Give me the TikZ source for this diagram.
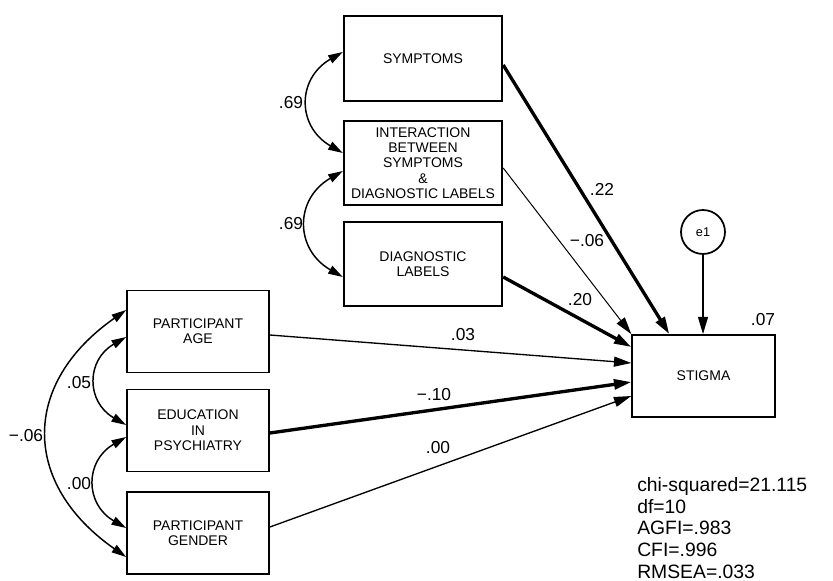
\documentclass[tikz,border=0pt]{standalone}
\usepackage{fontspec}
\setmainfont{Liberation Sans}
\usetikzlibrary{arrows.meta, calc}
\tikzstyle{var}=[draw, rectangle, line width=1.3pt, align=center, inner sep=0pt, font=\fontsize{10.5}{11.5}\selectfont]
\tikzstyle{topvar}=[var, minimum width=119pt, minimum height=63.5pt]
\tikzstyle{leftvar}=[var, minimum width=106.5pt, minimum height=61.5pt]
\tikzstyle{coef}=[inner sep=0pt, font=\fontsize{13}{15}\selectfont]
\tikzstyle{reg}=[-{Triangle[length=13pt,width=7.5pt]}, line width=1pt]
\tikzstyle{cov}=[{Triangle[length=11pt,width=6.5pt]}-{Triangle[length=11pt,width=6.5pt]}, line width=1.1pt]

\begin{document}
\begin{tikzpicture}[x=0.75pt, y=-0.75pt]
    \useasboundingbox (0, 0) rectangle (833, 581);

    \node[topvar] (sym) at (423, 58.5) {SYMPTOMS};
    \node[topvar] (inter) at (423, 163) {INTERACTION\\BETWEEN\\SYMPTOMS\\\&\\DIAGNOSTIC LABELS};
    \node[topvar] (diag) at (423, 264) {DIAGNOSTIC\\LABELS};

    \node[leftvar] (age) at (198, 331.5) {PARTICIPANT\\AGE};
    \node[leftvar] (edu) at (198, 430.5) {EDUCATION\\IN\\PSYCHIATRY};
    \node[leftvar] (gender) at (198, 533) {PARTICIPANT\\GENDER};

    \node[var, minimum width=107pt, minimum height=61.5pt] (stigma) at (703.5, 376) {STIGMA};
    \node[draw, circle, line width=1.3pt, minimum size=33pt, inner sep=0pt, font=\fontsize{9.5}{11}\selectfont] (e1) at (703, 232) {e1};

    \draw[reg, line width=2.5pt] ($(sym.east) + (0, 6.5)$) -- ($(stigma.north west) + (38, 0)$);
    \draw[reg, line width=0.75pt] ($(inter.east) + (0, 5)$) -- (stigma.north west);
    \draw[reg, line width=2.5pt] ($(diag.east) + (0, 13)$) -- ($(stigma.west) + (0, -29)$);
    \draw[reg] ($(age.east) + (0, 3.5)$) -- ($(stigma.west) + (0, -13)$);
    \draw[reg, line width=2.5pt] ($(edu.east) + (0, 2.5)$) -- ($(stigma.west) + (0, 6)$);
    \draw[reg] ($(gender.east) + (0, -6)$) -- ($(stigma.west) + (0, 20)$);
    \draw[reg] (e1) -- (e1 |- stigma.north);

    \draw[cov] ($(sym.west) + (0, -6.5)$) to[out=210, in=150, looseness=1.35] ($(inter.west) + (0, -10)$);
    \draw[cov] ($(inter.west) + (0, 8)$) to[out=210, in=150, looseness=1.35] ($(diag.west) + (0, 13)$);
    \draw[cov] ($(age.west) + (0, 5.5)$) to[out=210, in=150, looseness=1.35] ($(edu.west) + (0, -5.5)$);
    \draw[cov] ($(edu.west) + (0, 6.5)$) to[out=210, in=150, looseness=1.35] ($(gender.west) + (0, -5)$);
    \draw[cov] ($(age.west) + (0, -21.5)$) to[out=215, in=145, looseness=1.33] ($(gender.west) + (0, 24)$);

    \node[coef] (c22) at (602, 189) {.22};
    \node[coef] (c06) at (587, 241) {−.06};
    \node[coef] (c20) at (580, 300) {.20};
    \node[coef] (c03) at (463, 335) {.03};
    \node[coef] (c10) at (434, 395) {−.10};
    \node[coef] (c00) at (438, 448) {.00};
    \node[coef] (r2) at (763, 320) {.07};

    \node[coef] (s69a) at (291, 103) {.69};
    \node[coef] (s69b) at (291, 224) {.69};
    \node[coef] (s05) at (79, 383) {.05};
    \node[coef] (s00) at (79, 484) {.00};
    \node[coef] (s06) at (26, 436) {−.06};

    \node[anchor=north west, align=left, inner sep=0pt, font=\fontsize{14.5}{16.3}\selectfont] (fit) at (637, 477) {chi-squared=21.115\\df=10\\AGFI=.983\\CFI=.996\\RMSEA=.033};
\end{tikzpicture}
\end{document}
